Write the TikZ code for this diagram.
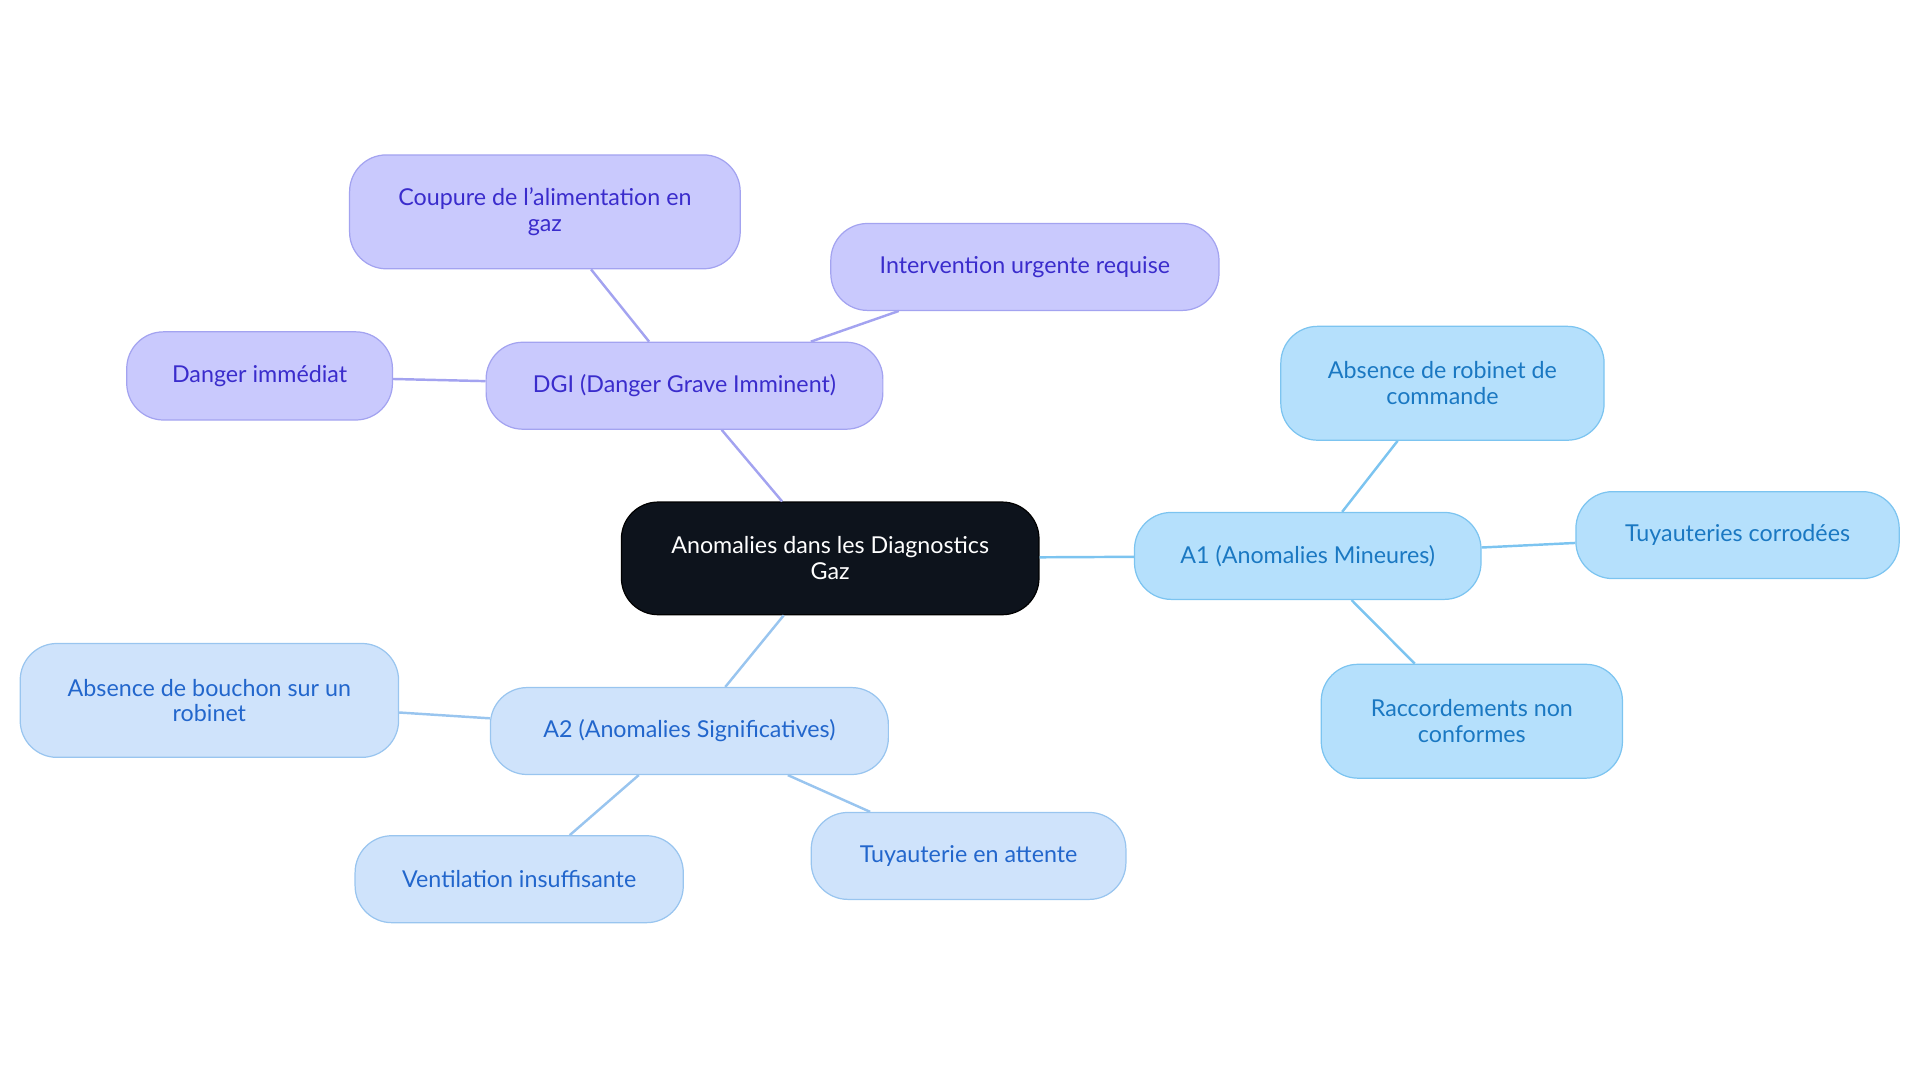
\documentclass[tikz,border=0pt]{standalone}
\usepackage{fontspec}
\setmainfont{Lato}
\begin{document}
\begin{tikzpicture}[x=1pt,y=-1pt,
 base/.style={draw,rounded corners=30pt,line width=1pt,align=center,inner sep=0pt,font=\fontsize{19}{21}\selectfont},
 root/.style={base,fill=black!90!blue!60!black,draw=black,text=white,fill={rgb,255:red,13;green,19;blue,28}},
 dgi/.style={base,fill={rgb,255:red,201;green,201;blue,253},draw={rgb,255:red,163;green,163;blue,240},text={rgb,255:red,58;green,44;blue,204}},
 aone/.style={base,fill={rgb,255:red,181;green,224;blue,252},draw={rgb,255:red,124;green,196;blue,240},text={rgb,255:red,26;green,120;blue,194}},
 atwo/.style={base,fill={rgb,255:red,207;green,227;blue,251},draw={rgb,255:red,153;green,197;blue,239},text={rgb,255:red,34;green,102;blue,204}},
 e/.style={line width=2pt}]
\useasboundingbox (0,0) rectangle (1568,884);
\node[root,minimum width=341pt,minimum height=92pt] (c) at (678,456) {Anomalies dans les Diagnostics\\Gaz};
\node[dgi,minimum width=324pt,minimum height=71pt] (d) at (559,315) {DGI (Danger Grave Imminent)};
\node[dgi,minimum width=319pt,minimum height=93pt] (d1) at (445,173) {Coupure de l'alimentation en\\gaz};
\node[dgi,minimum width=317pt,minimum height=71pt] (d2) at (837,218) {Intervention urgente requise};
\node[dgi,minimum width=217pt,minimum height=72pt] (d3) at (212,307) {Danger immédiat};
\node[aone,minimum width=283pt,minimum height=71pt] (a) at (1068,454) {A1 (Anomalies Mineures)};
\node[aone,minimum width=264pt,minimum height=93pt] (a1) at (1178,313) {Absence de robinet de\\commande};
\node[aone,minimum width=264pt,minimum height=71pt] (a2) at (1419,437) {Tuyauteries corrodées};
\node[aone,minimum width=246pt,minimum height=93pt] (a3) at (1202,589) {Raccordements non\\conformes};
\node[atwo,minimum width=325pt,minimum height=71pt] (b) at (563,597) {A2 (Anomalies Significatives)};
\node[atwo,minimum width=309pt,minimum height=93pt] (b1) at (171,572) {Absence de bouchon sur un\\robinet};
\node[atwo,minimum width=268pt,minimum height=71pt] (b2) at (424,718) {Ventilation insuffisante};
\node[atwo,minimum width=257pt,minimum height=71pt] (b3) at (791,699) {Tuyauterie en attente};
\begin{scope}[on background layer/.style={}]
\end{scope}
\pgfsetlayers{main}
\begin{scope}[e,draw={rgb,255:red,163;green,163;blue,240}]
\draw (c) -- (d); \draw (d) -- (d1); \draw (d) -- (d2); \draw (d) -- (d3);
\end{scope}
\begin{scope}[e,draw={rgb,255:red,124;green,196;blue,240}]
\draw (c) -- (a); \draw (a) -- (a1); \draw (a) -- (a2); \draw (a) -- (a3);
\end{scope}
\begin{scope}[e,draw={rgb,255:red,153;green,197;blue,239}]
\draw (c) -- (b); \draw (b) -- (b1); \draw (b) -- (b2); \draw (b) -- (b3);
\end{scope}
\end{tikzpicture}
\end{document}
